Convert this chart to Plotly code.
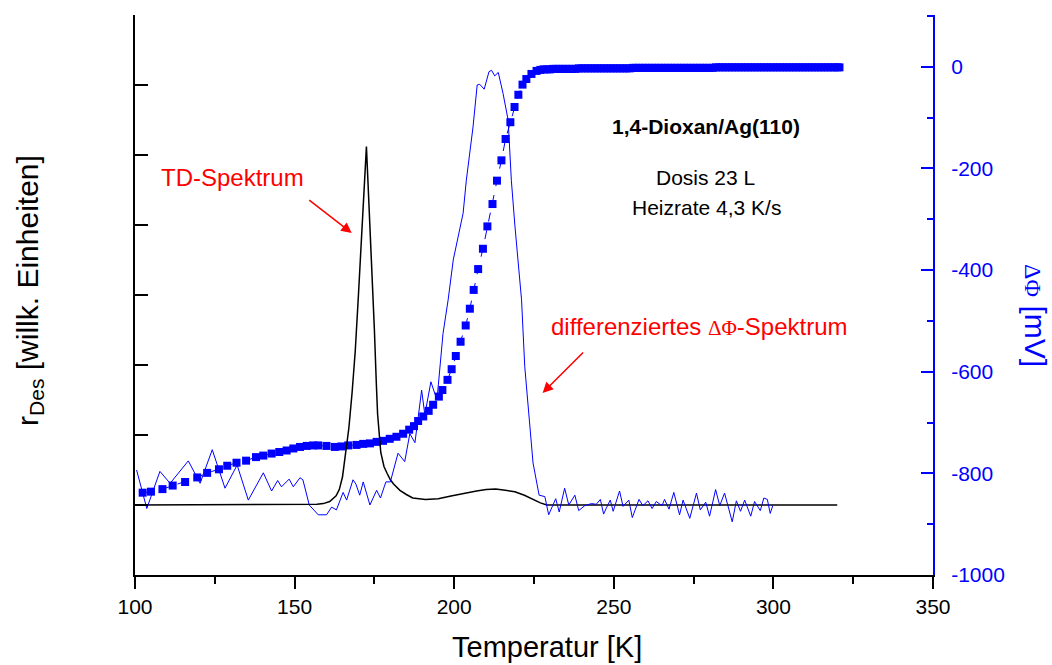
import plotly.graph_objects as go

# ---------------- data ----------------
# TD spectrum (left axis, arbitrary units)
td_T = [100, 155, 157, 159, 161, 163, 164, 165, 166, 167, 168, 169, 170, 171, 172, 172.5,
        173, 174, 175, 175.6, 176, 177, 178, 179, 180, 181, 183, 185, 187, 191, 195, 199,
        203, 207, 210, 213, 216, 219, 222, 225, 227, 229, 320]
td_r = [0, 0, 0.01, 0.02, 0.05, 0.13, 0.22, 0.4, 0.75, 1.1, 1.6, 2.2, 3.0, 3.9, 4.8, 5.12,
        4.6, 3.6, 2.5, 1.74, 1.3, 0.75, 0.55, 0.45, 0.36, 0.3, 0.21, 0.15, 0.1, 0.08, 0.09, 0.13,
        0.17, 0.2, 0.22, 0.23, 0.21, 0.19, 0.14, 0.07, 0.03, 0, 0]

# differentiated work-function spectrum (left axis, arbitrary units)
dphi_T = [100.5, 103.7, 107.8, 111.0, 116.7, 120.4, 124.2, 128.2, 132.0, 135.5, 140.2, 142.8,
          144.7, 145.9, 148.3, 149.6, 151.7, 152.6, 154.6, 157.4, 160.0, 161.6, 163.1, 165.2,
          166.3, 168.3, 169.2, 170.4, 171.5, 173.6, 175.7, 176.9, 178.6, 180.0, 182.4, 184.5,
          186.1, 187.7, 189.8, 190.8, 192.7, 194.6, 196.5, 198.1, 199.7, 202.8, 203.8, 205.9,
          207.2, 208.0, 209.4, 210.9, 211.7, 212.7, 213.8, 215.3, 216.9, 217.9, 219.0, 220.0,
          221.1, 222.1, 223.7, 224.7, 226.6, 228.4, 229.6, 231.8, 232.9, 234.6, 235.9, 237.8,
          239.0, 240.9, 243.0, 244.5, 245.8, 246.8, 247.7, 248.9, 249.8, 251.8, 252.9, 254.7,
          255.8, 257.9, 259.1, 260.7, 262.0, 263.3, 265.1, 265.9, 267.3, 268.8, 270.6, 271.7,
          273.8, 275.9, 277.1, 278.8, 280.0, 281.9, 283.2, 284.7, 287.1, 288.4, 289.7, 291.0,
          292.9, 294.1, 295.9, 297.0, 298.1, 299.0, 299.8]
dphi_d = [0.5, -0.05, 0.48, 0.31, 0.63, 0.31, 0.79, 0.24, 0.57, 0.07, 0.46, 0.2,
          0.35, 0.26, 0.37, 0.26, 0.39, 0.36, 0.0, -0.14, -0.14, -0.03, -0.07, 0.18,
          0.07, 0.36, 0.3, 0.14, 0.33, 0.0, 0.21, 0.1, 0.33, 0.33, 0.74, 0.62,
          1.02, 0.89, 1.64, 1.29, 1.76, 1.5, 2.45, 2.93, 3.5, 4.17, 4.64, 5.4,
          6.0, 6.01, 5.94, 6.19, 6.21, 6.13, 6.18, 5.88, 5.5, 4.64, 4.0, 3.5,
          2.93, 1.98, 1.12, 0.6, 0.14, 0.12, -0.14, 0.09, -0.1, 0.24, 0.0, 0.14,
          -0.08, -0.01, 0.02, 0.01, 0.08, -0.13, -0.04, 0.07, -0.09, 0.2, -0.02, 0.07,
          -0.18, 0.08, -0.01, 0.06, -0.05, 0.05, -0.01, 0.08, -0.06, 0.18, -0.14, 0.07,
          -0.19, 0.17, -0.07, 0.04, -0.16, 0.22, -0.01, 0.17, -0.24, 0.06, -0.09, 0.07,
          -0.16, 0.05, -0.08, 0.1, 0.08, -0.12, -0.01]

# work-function change (right axis, mV)
phi_T = [102.4, 105.0, 108.6, 111.8, 115.7, 119.5, 122.6, 126.3, 128.9, 131.8, 134.8, 137.9,
         140.2, 142.8, 145.2, 147.5, 149.6, 151.7, 153.8, 155.8, 157.4, 160.0, 162.6, 164.7,
         166.8, 169.4, 171.5, 173.6, 175.7, 177.7, 179.8, 181.9, 184.0, 185.9, 187.4, 188.7,
         190.3, 192.0, 193.4, 195.2, 196.3, 197.9, 199.2, 200.5, 202.0, 203.6, 204.9, 206.1,
         207.5, 209.0, 210.4, 212.0, 213.4, 214.8, 216.1, 217.6, 218.9, 220.1, 221.4, 222.6,
         224.2, 225.8, 227.0, 228.0, 229.0, 230.0, 231.0, 232.0, 233.0, 234.0, 235.0, 236.0,
         237.0, 238.0, 239.0, 240.0, 241.0, 242.0, 243.0, 244.0, 245.0, 246.0, 247.0, 248.0,
         249.0, 250.0, 251.0, 252.0, 253.0, 254.0, 255.0, 256.0, 257.0, 258.0, 259.0, 260.0,
         261.0, 262.0, 263.0, 264.0, 265.0, 266.0, 267.0, 268.0, 269.0, 270.0, 271.0, 272.0,
         273.0, 274.0, 275.0, 276.0, 277.0, 278.0, 279.0, 280.0, 281.0, 282.0, 283.0, 284.0,
         285.0, 286.0, 287.0, 288.0, 289.0, 290.0, 291.0, 292.0, 293.0, 294.0, 295.0, 296.0,
         297.0, 298.0, 299.0, 300.0, 301.0, 302.0, 303.0, 304.0, 305.0, 306.0, 307.0, 308.0,
         309.0, 310.0, 311.0, 312.0, 313.0, 314.0, 315.0, 316.0, 317.0, 318.0, 319.0, 320.0,
         320.7]
phi_mV = [-838, -836, -831, -824, -817, -808, -799, -792, -785, -779, -775, -768,
          -765, -761, -758, -755, -751, -748, -746, -745, -745, -746, -748, -747,
          -745, -744, -742, -741, -738, -736, -732, -728, -722, -714, -707, -697,
          -688, -677, -665, -649, -636, -616, -595, -569, -541, -509, -476, -439,
          -398, -358, -314, -270, -224, -184, -142, -109, -79, -55, -35, -24,
          -14, -8, -6, -5, -5, -5, -4, -4, -4, -4, -4, -4,
          -4, -4, -3, -3, -3, -3, -3, -3, -3, -3, -3, -3,
          -3, -3, -3, -3, -3, -3, -3, -2, -2, -2, -2, -2,
          -2, -2, -2, -2, -2, -2, -2, -2, -2, -2, -2, -2,
          -2, -2, -2, -2, -2, -2, -2, -2, -2, -1, -1, -1,
          -1, -1, -1, -1, -1, -1, -1, -1, -1, -1, -1, -1,
          -1, -1, -1, -1, -1, -1, -1, -1, -1, -1, -1, -1,
          -1, -1, -1, -1, -1, -1, -1, -1, -1, -1, -1, -1,
          -1]

# right-axis tick values and labels
mv_ticks = [-1000, -800, -600, -400, -200, 0]
mv_labels = ["-1000", "-800", "-600", "-400", "-200", "0"]

FONT = "Liberation Sans, Arial, sans-serif"
BLUE = "#0000FF"

fig = go.Figure()
# squares on the mV axis (yaxis, drawn underneath)
fig.add_trace(go.Scatter(x=phi_T, y=phi_mV, mode="lines+markers", yaxis="y", xaxis="x",
                         line=dict(color=BLUE, width=1, dash="dash"),
                         marker=dict(symbol="square", size=8, color=BLUE)))
fig.add_trace(go.Scatter(x=td_T, y=td_r, mode="lines", yaxis="y2", xaxis="x",
                         line=dict(color="black", width=1.5)))
fig.add_trace(go.Scatter(x=dphi_T, y=dphi_d, mode="lines", yaxis="y2", xaxis="x",
                         line=dict(color=BLUE, width=1)))

fig.update_layout(
    width=1052, height=665,
    margin=dict(l=135, r=119, t=15, b=90),
    plot_bgcolor="white", paper_bgcolor="white",
    showlegend=False,
    font=dict(family=FONT, color="black"),
    xaxis=dict(range=[100, 350], dtick=50, tick0=100, ticks="outside", ticklen=12, tickwidth=2,
               tickcolor="black", showline=True, linecolor="black", linewidth=2,
               showgrid=False, zeroline=False, tickfont=dict(size=21, color="black"),
               minor=dict(dtick=25, ticks="outside", ticklen=7, tickwidth=2, tickcolor="black"),
               anchor="y"),
    xaxis2=dict(range=[100, 350], overlaying="x", side="top", dtick=50, tick0=100,
                ticks="inside", ticklen=12, tickwidth=2, tickcolor="black",
                showticklabels=False, showline=True, linecolor="black", linewidth=2,
                showgrid=False, zeroline=False, anchor="y",
                minor=dict(dtick=25, ticks="inside", ticklen=7, tickwidth=2, tickcolor="black")),
    yaxis=dict(range=[-1000, 102], side="right", tickmode="array", tickvals=mv_ticks,
               ticktext=mv_labels, ticks="inside",
               ticklen=12, tickwidth=2, tickcolor=BLUE, showline=True, linecolor=BLUE,
               linewidth=2, showgrid=False, zeroline=False,
               tickfont=dict(size=21, color=BLUE), ticklabelstandoff=12,
               minor=dict(dtick=100, tick0=0, ticks="inside", ticklen=6, tickwidth=2,
                          tickcolor=BLUE),
               anchor="x"),
    yaxis2=dict(range=[-1, 7], overlaying="y", side="left", dtick=1, tick0=0,
                ticks="inside", ticklen=13, tickwidth=2, tickcolor="black",
                showticklabels=False, showline=True, linecolor="black", linewidth=2,
                showgrid=False, zeroline=False, anchor="x"),
)

sym = "font-family:Liberation Serif, Times New Roman, serif"
ann = [
    dict(text="Temperatur [K]", x=0.516, y=-0.128, xref="paper", yref="paper",
         showarrow=False, font=dict(size=29, color="black"), xanchor="center", yanchor="middle"),
    dict(text="r<sub>Des</sub> [willk. Einheiten]", x=-0.1316, y=0.509, xref="paper", yref="paper",
         showarrow=False, textangle=-90, font=dict(size=30, color="black"),
         xanchor="center", yanchor="middle"),
    dict(text=f"<span style='{sym};font-size:24px'>ΔΦ</span> [mV]", x=1.129, y=0.4625,
         xref="paper", yref="paper", showarrow=False, textangle=90,
         font=dict(size=30, color=BLUE), xanchor="center", yanchor="middle"),
    dict(text="TD-Spektrum", x=0.1216, y=0.7107, xref="paper", yref="paper", showarrow=False,
         font=dict(size=24, color="red"), xanchor="center", yanchor="middle"),
    dict(text=f"differenziertes <span style='{sym};font-size:21px'>ΔΦ</span>-Spektrum",
         x=0.708, y=0.443, xref="paper", yref="paper", showarrow=False,
         font=dict(size=24, color="red"), xanchor="center", yanchor="middle"),
    dict(text="<b>1,4-Dioxan/Ag(110)</b>", x=0.7155, y=0.8, xref="paper", yref="paper",
         showarrow=False, font=dict(size=21, color="black"), xanchor="center", yanchor="middle"),
    dict(text="Dosis 23 L", x=0.7155, y=0.709, xref="paper", yref="paper",
         showarrow=False, font=dict(size=21, color="black"), xanchor="center", yanchor="middle"),
    dict(text="Heizrate 4,3 K/s", x=0.7165, y=0.657, xref="paper", yref="paper",
         showarrow=False, font=dict(size=21, color="black"), xanchor="center", yanchor="middle"),
    dict(text="", x=167.9, y=3.886, xref="x", yref="y2", ax=-44, ay=-34, showarrow=True,
         arrowhead=2, arrowsize=1.4, arrowwidth=1.5, arrowcolor="red", standoff=0),
    dict(text="", x=227.7, y=1.6, xref="x", yref="y2", ax=42, ay=-42, showarrow=True,
         arrowhead=2, arrowsize=1.4, arrowwidth=1.5, arrowcolor="red", standoff=0),
]
fig.update_layout(annotations=ann)

fig.write_html("out.html", config={"displayModeBar": False},
               post_script="document.body.style.margin='0';document.body.style.overflow='hidden';")
